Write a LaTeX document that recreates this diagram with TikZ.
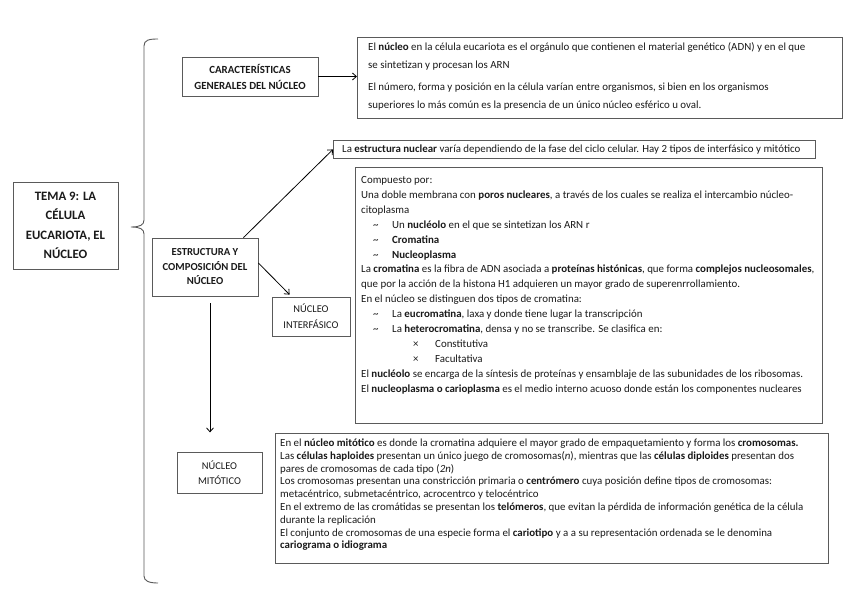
\documentclass[tikz,border=0pt]{standalone}
\usepackage{fontspec}
\setmainfont{Carlito}
\usetikzlibrary{arrows.meta,calc}
\definecolor{txt}{HTML}{1A1A1A}
\definecolor{bord}{HTML}{5A5A5A}
\newcommand{\bl}{\hspace*{12pt}\makebox[19pt][l]{\textasciitilde}}
\newcommand{\sbl}{\hspace*{52pt}\makebox[22pt][l]{×}}
\newcommand{\tblock}[2]{\begin{minipage}[t]{#1}\raggedright #2\end{minipage}}
\begin{document}
\begin{tikzpicture}[x=1pt,y=-1pt,
  box/.style={draw=bord, line width=0.8pt, text=txt, inner sep=0pt},
  head/.style={box, font=\fontsize{10.7}{15}\selectfont\bfseries, align=center},
  capbox/.style={box, font=\fontsize{10.4}{16}\selectfont, align=center},
  frame/.style={box, anchor=north west},
  body/.style={anchor=base west, inner sep=0pt, text=txt},
  arr/.style={-{Straight Barb[length=4pt,width=7pt]}, line width=0.8pt, black}]
\useasboundingbox (0,0) rectangle (848,599);
\fill[white] (0,0) rectangle (848,599);
% brace
\draw[bord, line width=0.9pt] (158,39) .. controls (149,39) and (144,40) .. (144,46) -- (144,220)
  .. controls (144,225) and (140,227) .. (131,227)
  .. controls (140,227) and (144,229) .. (144,234) -- (144,576)
  .. controls (144,581) and (149,583) .. (158,583);
% main
\node[box, font=\fontsize{12.8}{19.5}\selectfont\bfseries, align=center,
  minimum width=105pt, minimum height=87pt] (tema) at (65.5,225.5)
  {TEMA 9: LA\\CÉLULA\\EUCARIOTA, EL\\NÚCLEO};
\node[head, font=\fontsize{10.9}{16}\selectfont\bfseries, minimum width=136pt, minimum height=39pt] (carac) at (250,76.5)
  {CARACTERÍSTICAS\\GENERALES DEL NÚCLEO};
\node[head, font=\fontsize{10.7}{14.5}\selectfont\bfseries, minimum width=106pt, minimum height=58pt] (estr) at (205,267)
  {ESTRUCTURA Y\\COMPOSICIÓN DEL\\NÚCLEO};
\node[capbox, minimum width=78pt, minimum height=39pt] (interf) at (311,316.5)
  {NÚCLEO\\INTERFÁSICO};
\node[capbox, font=\fontsize{10.4}{15}\selectfont, minimum width=85pt, minimum height=41pt] (mitot) at (219.5,472.5)
  {NÚCLEO\\MITÓTICO};
% text boxes: frames
\node[frame, minimum width=485pt, minimum height=81pt] (b1) at (357,37) {};
\node[frame, minimum width=482pt, minimum height=18pt] (b2) at (333,140) {};
\node[frame, minimum width=467pt, minimum height=256pt] (b3) at (355,167) {};
\node[frame, minimum width=553pt, minimum height=130pt] (b4) at (275,433) {};
% text boxes: texts
\node[body, font=\fontsize{10.9}{17.5}\selectfont] (t1) at ($(b1.north west)+(11,14)$)
  {\tblock{520pt}{El \textbf{núcleo} en la célula eucariota es el orgánulo que contienen el material genético (ADN) y en el que\\
   se sintetizan y procesan los ARN\\[5pt]
   El número, forma y posición en la célula varían entre organismos, si bien en los organismos\\
   superiores lo más común es la presencia de un único núcleo esférico u oval.}};
\node[body, font=\fontsize{10.9}{15}\selectfont] (t2) at ($(b2.north west)+(9,12.5)$)
  {\tblock{520pt}{La \textbf{estructura nuclear} varía dependiendo de la fase del ciclo celular. Hay 2 tipos de interfásico y mitótico}};
\node[body, font=\fontsize{10.9}{14.9}\selectfont] (t3) at ($(b3.north west)+(6,16.5)$)
  {\tblock{520pt}{Compuesto por:\\
   Una doble membrana con \textbf{poros nucleares}, a través de los cuales se realiza el intercambio núcleo-\\
   citoplasma\\
   \bl Un \textbf{nucléolo} en el que se sintetizan los ARN r\\
   \bl \textbf{Cromatina}\\
   \bl \textbf{Nucleoplasma}\\
   La \textbf{cromatina} es la fibra de ADN asociada a \textbf{proteínas histónicas}, que forma \textbf{complejos nucleosomales},\\
   que por la acción de la histona H1 adquieren un mayor grado de superenrrollamiento.\\
   En el núcleo se distinguen dos tipos de cromatina:\\
   \bl La \textbf{eucromatina}, laxa y donde tiene lugar la transcripción\\
   \bl La \textbf{heterocromatina}, densa y no se transcribe. Se clasifica en:\\
   \sbl Constitutiva\\
   \sbl Facultativa\\
   El \textbf{nucléolo} se encarga de la síntesis de proteínas y ensamblaje de las subunidades de los ribosomas.\\
   El \textbf{nucleoplasma o carioplasma} es el medio interno acuoso donde están los componentes nucleares}};
\node[body, font=\fontsize{10.9}{12.8}\selectfont] (t4) at ($(b4.north west)+(5,13.5)$)
  {\tblock{600pt}{En el \textbf{núcleo mitótico} es donde la cromatina adquiere el mayor grado de empaquetamiento y forma los \textbf{cromosomas.}\\
   Las \textbf{células haploides} presentan un único juego de cromosomas(\textit{n}), mientras que las \textbf{células diploides} presentan dos\\
   pares de cromosomas de cada tipo (\textit{2n})\\
   Los cromosomas presentan una constricción primaria o \textbf{centrómero} cuya posición define tipos de cromosomas:\\
   metacéntrico, submetacéntrico, acrocentrco y telocéntrico\\
   En el extremo de las cromátidas se presentan los \textbf{telómeros}, que evitan la pérdida de información genética de la célula\\
   durante la replicación\\
   El conjunto de cromosomas de una especie forma el \textbf{cariotipo} y a a su representación ordenada se le denomina\\
   \textbf{cariograma o idiograma}}};
% connectors
\draw[arr] (carac.east) -- (b1.west |- carac.east);
\draw[arr] ($(estr.north west)!0.86!(estr.north east)$) -- (b2.west);
\draw[arr] ($(estr.east)+(0,-4)$) -- ($(interf.north west)+(18,-2)$);
\draw[arr] ($(estr.south)+(5,7)$) -- ($(estr.south)+(5,136)$);
\end{tikzpicture}
\end{document}
